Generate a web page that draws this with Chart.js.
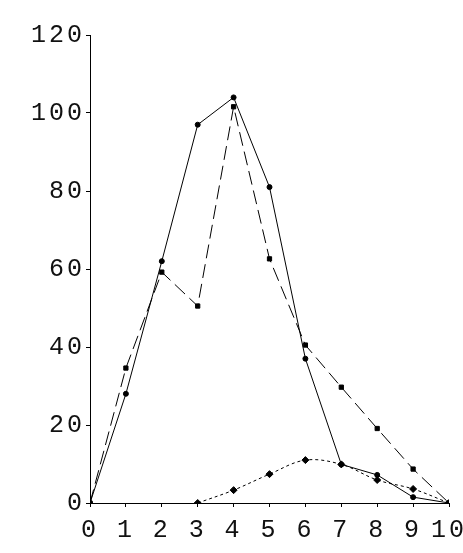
<!DOCTYPE html>
<html>
<head>
<meta charset="utf-8">
<script src="https://cdn.jsdelivr.net/npm/chart.js@4.4.1/dist/chart.umd.min.js"></script>
<style>
  html, body { margin: 0; padding: 0; background: #fff; overflow: hidden; }
  #wrap { width: 463px; height: 553px; }
</style>
</head>
<body>
<div id="wrap"><canvas id="myChart" width="463" height="553"></canvas></div>
<script>
// x positions 0..10
const xValues = [0, 1, 2, 3, 4, 5, 6, 7, 8, 9, 10];
const solidSeries = [0, 28, 62, 97, 104, 81, 37, 9.9, 7.2, 1.5, 0];
const dashedSeries = [0, 34.6, 59.2, 50.5, 101.6, 62.6, 40.5, 29.7, 19.1, 8.7, 0];
const dottedSeries = [null, null, null, 0, 3.3, 7.4, 11, 9.9, 5.9, 3.6, 0];
const yTicks = [0, 20, 40, 60, 80, 100, 120];

const toPoints = arr => xValues.map((x, i) => ({ x: x, y: arr[i] }));

const tickFont = { family: 'Liberation Mono', size: 25 };

// wider letter spacing for the tick labels, like the original's stroke font
const spacing = {
  id: 'spacing',
  beforeInit: c => { c.ctx.letterSpacing = '3px'; },
  beforeDraw: c => { c.ctx.letterSpacing = '3px'; }
};

const canvas = document.getElementById('myChart');
const chart = new Chart(canvas, {
  type: 'line',
  plugins: [spacing],
  data: {
    datasets: [
      {
        label: 'A',
        data: toPoints(solidSeries),
        borderColor: '#000',
        backgroundColor: '#000',
        borderWidth: 1,
        pointStyle: 'circle',
        pointRadius: 2.5,
        tension: 0
      },
      {
        label: 'B',
        data: toPoints(dashedSeries),
        borderColor: '#000',
        backgroundColor: '#000',
        borderWidth: 1,
        borderDash: [14, 6],
        pointStyle: 'rect',
        pointRadius: 3,
        tension: 0
      },
      {
        label: 'C',
        data: toPoints(dottedSeries),
        borderColor: '#000',
        backgroundColor: '#000',
        borderWidth: 1,
        borderDash: [3, 3],
        pointStyle: 'rectRot',
        pointRadius: 3.5,
        tension: 0.35,
        spanGaps: false
      }
    ]
  },
  options: {
    responsive: false,
    animation: false,
    layout: { padding: { top: 35, left: 0, right: 0, bottom: 0 } },
    plugins: { legend: { display: false }, tooltip: { enabled: false } },
    scales: {
      x: {
        type: 'linear',
        min: 0,
        max: 10,
        afterFit: s => { s.height = 50; s.paddingRight = 14; },
        border: { color: '#000', width: 1 },
        grid: { drawOnChartArea: false, color: '#000', tickLength: 4 },
        ticks: {
          stepSize: 1,
          color: '#111',
          font: tickFont,
          padding: 8,
          maxRotation: 0,
          autoSkip: false
        }
      },
      y: {
        min: 0,
        max: 120,
        afterFit: s => { s.width = 90; },
        afterBuildTicks: s => { s.ticks = yTicks.map(v => ({ value: v })); },
        border: { color: '#000', width: 1 },
        grid: { drawOnChartArea: false, color: '#000', tickLength: 4 },
        ticks: { color: '#111', font: tickFont, padding: 1 }
      }
    }
  }
});
</script>
</body>
</html>
